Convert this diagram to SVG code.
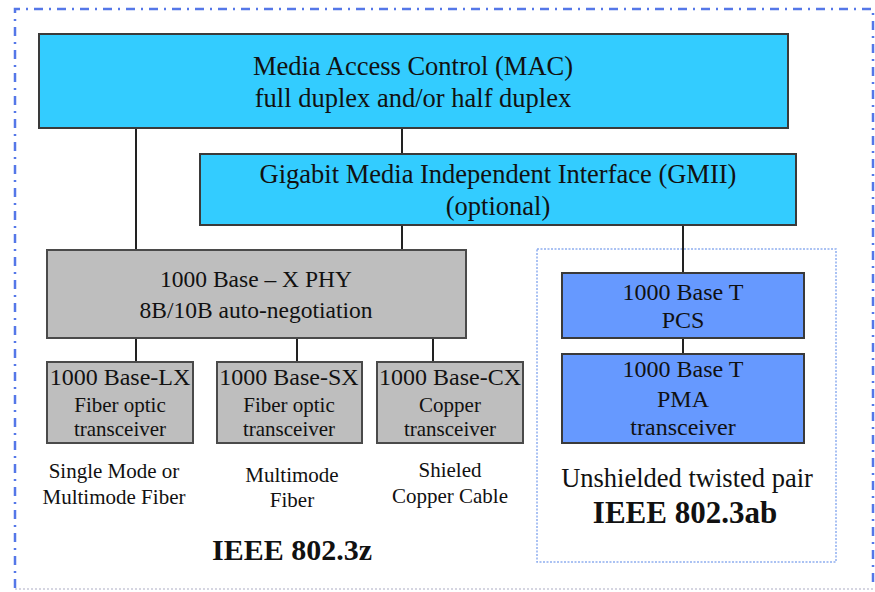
<svg xmlns="http://www.w3.org/2000/svg" width="875" height="592" viewBox="0 0 875 592">
<style>
text{font-family:"Liberation Serif","Times New Roman",serif;fill:#111;text-anchor:middle}
.cyan{fill:#33CCFF;stroke:#3a3a3a;stroke-width:2}
.gray{fill:#BEBEBE;stroke:#4a4a4a;stroke-width:2}
.blue{fill:#6699FF;stroke:#3a3a3a;stroke-width:2}
.con{stroke:#222;stroke-width:2;fill:none}
.b{font-weight:bold}
</style>
<rect width="875" height="592" fill="#fff"/>
<g id="frame">
<path d="M15,588 L15,9 L873,9 L873,588" fill="none" stroke="#5577E8" stroke-width="2.5" stroke-dasharray="9,6,2,6"/>
<line x1="15" y1="589" x2="873" y2="589" stroke="#c8c8d8" stroke-width="1.5" stroke-dasharray="2,2"/>
</g>
<g id="ieee8023ab-frame">
<rect x="537" y="249" width="299" height="313" fill="none" stroke="#8FAEF0" stroke-width="1.5" stroke-dasharray="2,1.5"/>
</g>
<g id="connectors">
<line class="con" x1="136" y1="128" x2="136" y2="250"/>
<line class="con" x1="402" y1="128" x2="402" y2="154"/>
<line class="con" x1="402" y1="225" x2="402" y2="250"/>
<line class="con" x1="683" y1="225" x2="683" y2="273"/>
<line class="con" x1="136" y1="338" x2="136" y2="362"/>
<line class="con" x1="297" y1="338" x2="297" y2="362"/>
<line class="con" x1="433" y1="338" x2="433" y2="362"/>
<line class="con" x1="683" y1="338" x2="683" y2="354"/>
</g>
<g id="mac">
<rect class="cyan" x="39" y="34" width="749" height="94"/>
<text x="413" y="75" font-size="26.5">Media Access Control (MAC)</text>
<text x="413" y="107" font-size="26.5">full duplex and/or half duplex</text>
</g>
<g id="gmii">
<rect class="cyan" x="200" y="154" width="596" height="71"/>
<text x="498" y="183" font-size="26.5">Gigabit Media Independent Interface (GMII)</text>
<text x="498" y="215" font-size="26.5">(optional)</text>
</g>
<g id="phy">
<rect class="gray" x="47" y="250" width="419" height="88"/>
<text x="256" y="287" font-size="23.5">1000 Base – X PHY</text>
<text x="256" y="318" font-size="23.5">8B/10B auto-negotiation</text>
</g>
<g id="lx">
<rect class="gray" x="47" y="362" width="146" height="81"/>
<text x="120" y="385" font-size="24">1000 Base-LX</text>
<text x="120" y="412" font-size="21">Fiber optic</text>
<text x="120" y="436" font-size="21">transceiver</text>
</g>
<g id="sx">
<rect class="gray" x="217" y="362" width="145" height="81"/>
<text x="289" y="385" font-size="24">1000 Base-SX</text>
<text x="289" y="412" font-size="21">Fiber optic</text>
<text x="289" y="436" font-size="21">transceiver</text>
</g>
<g id="cx">
<rect class="gray" x="377" y="362" width="146" height="81"/>
<text x="450" y="385" font-size="24">1000 Base-CX</text>
<text x="450" y="412" font-size="21">Copper</text>
<text x="450" y="436" font-size="21">transceiver</text>
</g>
<g id="labels-8023z">
<text x="114" y="478" font-size="21">Single Mode or</text>
<text x="114" y="504" font-size="21">Multimode Fiber</text>
<text x="292" y="482" font-size="21">Multimode</text>
<text x="292" y="507" font-size="21">Fiber</text>
<text x="450" y="477" font-size="21">Shieled</text>
<text x="450" y="503" font-size="21">Copper Cable</text>
<text class="b" x="292" y="560" font-size="30">IEEE 802.3z</text>
</g>
<g id="pcs">
<rect class="blue" x="562" y="273" width="242" height="65"/>
<text x="683" y="300" font-size="24">1000 Base T</text>
<text x="683" y="328" font-size="24">PCS</text>
</g>
<g id="pma">
<rect class="blue" x="562" y="354" width="242" height="89"/>
<text x="683" y="377" font-size="24">1000 Base T</text>
<text x="683" y="407" font-size="24">PMA</text>
<text x="683" y="435" font-size="24">transceiver</text>
</g>
<g id="labels-8023ab">
<text x="687" y="487" font-size="26.5">Unshielded twisted pair</text>
<text class="b" x="685" y="523" font-size="31">IEEE 802.3ab</text>
</g>
</svg>
